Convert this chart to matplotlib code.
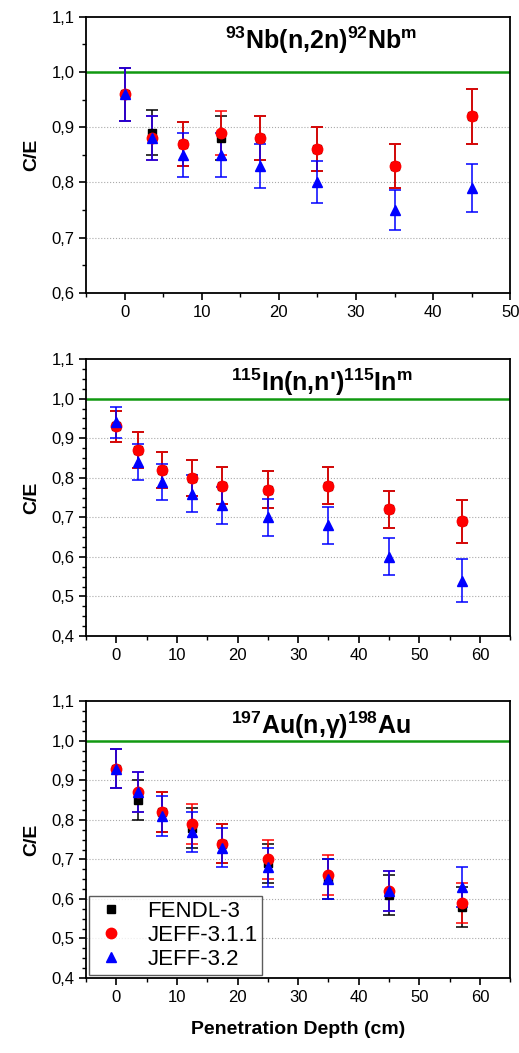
import numpy as np
import matplotlib
matplotlib.use('Agg')
import matplotlib.pyplot as plt
from matplotlib.ticker import MultipleLocator, FuncFormatter
from matplotlib.lines import Line2D

plt.rcParams['font.family'] = ['Liberation Sans', 'DejaVu Sans']
plt.rcParams['mathtext.fontset'] = 'custom'
plt.rcParams['mathtext.rm'] = 'Liberation Sans:bold'
plt.rcParams['mathtext.it'] = 'Liberation Sans:bold'
plt.rcParams['mathtext.bf'] = 'Liberation Sans:bold'

# Nb-93 (n,2n) panel
depth_nb = [0, 3.5, 7.5, 12.5, 17.5, 25, 35, 45]
nb_fendl = [0.96, 0.89, 0.87, 0.88, 0.88, 0.86, 0.83, 0.92]
nb_fendl_err = [0.048, 0.041, 0.04, 0.04, 0.04, 0.04, 0.04, 0.05]
nb_jeff311 = [0.96, 0.88, 0.87, 0.89, 0.88, 0.86, 0.83, 0.92]
nb_jeff311_err = [0.048, 0.04, 0.04, 0.04, 0.04, 0.04, 0.04, 0.05]
nb_jeff32 = [0.96, 0.88, 0.85, 0.85, 0.83, 0.80, 0.75, 0.79]
nb_jeff32_err = [0.048, 0.04, 0.04, 0.04, 0.04, 0.038, 0.037, 0.043]

# In-115 (n,n') panel
depth_in = [0, 3.5, 7.5, 12.5, 17.5, 25, 35, 45, 57]
in_fendl = [0.93, 0.87, 0.82, 0.80, 0.78, 0.77, 0.78, 0.72, 0.69]
in_fendl_err = [0.04, 0.045, 0.046, 0.046, 0.047, 0.047, 0.047, 0.047, 0.055]
in_jeff311 = [0.93, 0.87, 0.82, 0.80, 0.78, 0.77, 0.78, 0.72, 0.69]
in_jeff311_err = [0.04, 0.045, 0.046, 0.046, 0.047, 0.047, 0.047, 0.047, 0.055]
in_jeff32 = [0.94, 0.84, 0.79, 0.76, 0.73, 0.70, 0.68, 0.60, 0.54]
in_jeff32_err = [0.04, 0.045, 0.046, 0.047, 0.047, 0.047, 0.047, 0.047, 0.055]

# Au-197 (n,g) panel
depth_au = [0, 3.5, 7.5, 12.5, 17.5, 25, 35, 45, 57]
au_fendl = [0.93, 0.85, 0.82, 0.78, 0.74, 0.69, 0.65, 0.61, 0.58]
au_fendl_err = [0.05, 0.05, 0.05, 0.05, 0.05, 0.05, 0.05, 0.05, 0.05]
au_jeff311 = [0.93, 0.87, 0.82, 0.79, 0.74, 0.70, 0.66, 0.62, 0.59]
au_jeff311_err = [0.05, 0.05, 0.05, 0.05, 0.05, 0.05, 0.05, 0.05, 0.05]
au_jeff32 = [0.93, 0.87, 0.81, 0.77, 0.73, 0.68, 0.65, 0.62, 0.63]
au_jeff32_err = [0.05, 0.05, 0.05, 0.05, 0.05, 0.05, 0.05, 0.05, 0.05]

labels = ['FENDL-3', 'JEFF-3.1.1', 'JEFF-3.2']
colors = ['black', '#ff0000', '#0000ff']
markers = ['s', 'o', '^']
msizes = [6, 7.5, 7.5]

panels = [
    (depth_nb, [(nb_fendl, nb_fendl_err), (nb_jeff311, nb_jeff311_err), (nb_jeff32, nb_jeff32_err)],
     r'$^{93}$Nb(n,2n)$^{92}$Nb$^{m}$', (-5, 50), (0.6, 1.1), 0.05, [0.984, 0.722]),
    (depth_in, [(in_fendl, in_fendl_err), (in_jeff311, in_jeff311_err), (in_jeff32, in_jeff32_err)],
     r"$^{115}$In(n,n')$^{115}$In$^{m}$", (-5, 65), (0.4, 1.1), 0.025, [0.659, 0.396]),
    (depth_au, [(au_fendl, au_fendl_err), (au_jeff311, au_jeff311_err), (au_jeff32, au_jeff32_err)],
     r'$^{197}$Au(n,γ)$^{198}$Au', (-5, 65), (0.4, 1.1), 0.025, [0.334, 0.0712]),
]

fig = plt.figure(figsize=(5.19, 10.53), dpi=100)
comma = FuncFormatter(lambda v, p: ('%.1f' % v).replace('.', ','))

for i, (x, series, title, xlim, ylim, yminor, (top, bottom)) in enumerate(panels):
    ax = fig.add_axes([0.166, bottom, 0.983 - 0.166, top - bottom])
    for yv in np.arange(ylim[0] + 0.1, 1.0, 0.1):
        ax.axhline(yv, color='#aaaaaa', lw=0.8, ls=':', zorder=0)
    ax.axhline(1.0, color='#119911', lw=1.8, zorder=1)
    for (vals, errs), c, m, ms in zip(series, colors, markers, msizes):
        ax.errorbar(x, vals, yerr=errs, fmt=m, color=c, ecolor=c, ms=ms, elinewidth=1.1,
                    capsize=4, capthick=1.1, zorder=3)
    ax.set_xlim(*xlim)
    ax.set_ylim(*ylim)
    ax.xaxis.set_major_locator(MultipleLocator(10))
    ax.xaxis.set_minor_locator(MultipleLocator(5))
    ax.yaxis.set_major_locator(MultipleLocator(0.1))
    ax.yaxis.set_minor_locator(MultipleLocator(yminor))
    ax.yaxis.set_major_formatter(comma)
    ax.tick_params(which='major', direction='out', length=5, width=1.2, labelsize=12)
    ax.tick_params(which='minor', direction='out', length=3, width=1)
    for s in ax.spines.values():
        s.set_linewidth(1.3)
    ax.set_ylabel('C/E', fontsize=14, fontweight='bold', labelpad=8)
    ax.text(0.555, 0.915, title, transform=ax.transAxes, ha='center', va='center',
            fontsize=18, fontweight='bold')
    if i == 2:
        ax.set_xlabel('Penetration Depth (cm)', fontsize=14, fontweight='bold', labelpad=12)
        handles = [Line2D([], [], ls='none', marker=m, color=c, ms=ms)
                   for c, m, ms in zip(colors, markers, msizes)]
        leg = ax.legend(handles, labels, loc='lower left', fontsize=16, frameon=True,
                        fancybox=False, edgecolor='#333333', handletextpad=0.9,
                        borderaxespad=0.15, handlelength=1.5, labelspacing=0.15,
                        borderpad=0.2)
        leg.get_frame().set_linewidth(1.0)

fig.savefig('out.png', dpi=100)
